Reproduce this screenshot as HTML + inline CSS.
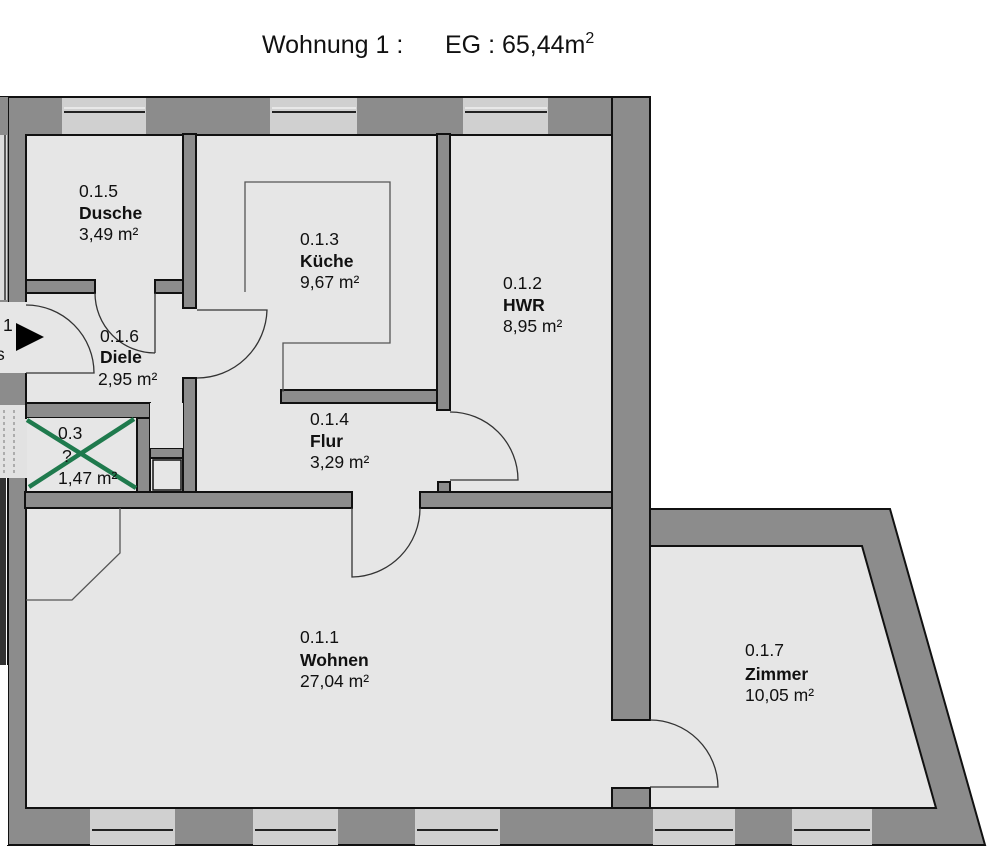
<!DOCTYPE html>
<html><head><meta charset="utf-8"><style>
html,body{margin:0;padding:0;background:#fff;}
svg{display:block;}
text{font-family:"Liberation Sans",Arial,sans-serif;font-size:17.5px;fill:#111;}
.b{font-weight:bold;}
</style></head><body>
<svg width="1000" height="851" viewBox="0 0 1000 851" xmlns="http://www.w3.org/2000/svg">
<rect width="1000" height="851" fill="#fff"/>
<text x="262" y="53" style="font-size:25px">Wohnung 1 :</text>
<text x="445" y="53" style="font-size:25px">EG : 65,44m<tspan dy="-10" style="font-size:16px">2</tspan></text>

<!-- building base gray -->
<polygon points="0,97 650,97 650,509 890,509 985,845 8,845 8,97" fill="#8c8c8c" stroke="#111" stroke-width="2"/>
<rect x="0" y="97" width="8" height="205" fill="#8c8c8c"/>
<rect x="0" y="135" width="7" height="165" fill="#ddd"/>
<line x1="5" y1="135" x2="5" y2="300" stroke="#333" stroke-width="1.5"/>
<rect x="0" y="373" width="26" height="32" fill="#8c8c8c"/>
<rect x="0" y="478" width="6" height="187" fill="#333"/>
<rect x="0" y="665" width="8" height="180" fill="#fff"/>

<!-- light interior -->
<g fill="#e6e6e6" stroke="#111" stroke-width="2">
<rect x="26" y="135" width="586" height="673"/>
<polygon points="650,546 862,546 936,808 650,808"/>
</g>
<rect x="0" y="302" width="27" height="71" fill="#e6e6e6"/>
<rect x="0" y="405" width="27" height="73" fill="#e2e2e2"/>
<g stroke="#777" stroke-width="1" stroke-dasharray="3,3">
<line x1="4" y1="410" x2="4" y2="476"/><line x1="14" y1="410" x2="14" y2="476"/>
</g>

<!-- internal walls -->
<g fill="#8c8c8c" stroke="#111" stroke-width="2">
<rect x="26" y="280" width="69" height="13"/>
<rect x="155" y="280" width="41" height="13"/>
<rect x="183" y="134" width="13" height="174"/>
<rect x="183" y="378" width="13" height="114"/>
<rect x="26" y="403" width="124" height="15"/>
<rect x="137" y="418" width="13" height="74"/>
<rect x="150" y="448" width="33" height="10"/>
<rect x="437" y="134" width="13" height="276"/>
<rect x="281" y="390" width="156" height="13"/>
<rect x="25" y="492" width="327" height="16"/>
<rect x="420" y="492" width="193" height="16"/>
<rect x="438" y="482" width="12" height="10"/>
<rect x="612" y="97" width="38" height="623"/>
<rect x="612" y="788" width="38" height="20"/>
</g>
<rect x="611" y="721" width="41" height="66" fill="#e6e6e6"/>
<rect x="153" y="460" width="28" height="30" fill="#e6e6e6" stroke="#111" stroke-width="1.5"/>
<rect x="27" y="418" width="109" height="72" fill="#e6e6e6"/>
<rect x="150" y="403" width="33" height="45" fill="#e6e6e6"/>

<!-- top windows -->
<g>
<rect x="62" y="98" width="84" height="36" fill="#d0d0d0"/>
<rect x="270" y="98" width="87" height="36" fill="#d0d0d0"/>
<rect x="463" y="98" width="85" height="36" fill="#d0d0d0"/>
<g stroke="#222" stroke-width="2" fill="none">
<line x1="64" y1="112" x2="145" y2="112"/><line x1="272" y1="112" x2="356" y2="112"/><line x1="465" y1="112" x2="547" y2="112"/>
</g>
<g stroke="#fff" stroke-width="1"><line x1="64" y1="108" x2="145" y2="108"/><line x1="272" y1="108" x2="356" y2="108"/><line x1="465" y1="108" x2="547" y2="108"/></g>
</g>
<!-- bottom windows -->
<g fill="#d0d0d0">
<rect x="90" y="809" width="85" height="36"/><rect x="253" y="809" width="85" height="36"/><rect x="415" y="809" width="85" height="36"/>
<rect x="653" y="809" width="82" height="36"/><rect x="792" y="809" width="80" height="36"/>
</g>
<g stroke="#222" stroke-width="2">
<line x1="92" y1="830" x2="173" y2="830"/><line x1="255" y1="830" x2="336" y2="830"/><line x1="417" y1="830" x2="498" y2="830"/>
<line x1="655" y1="830" x2="733" y2="830"/><line x1="794" y1="830" x2="870" y2="830"/>
</g>

<!-- doors -->
<g fill="none" stroke="#333" stroke-width="1.3">
<path d="M197,310 H267 A70,70 0 0 1 197,378"/>
<path d="M155,293 V353 M95,293 A60,60 0 0 0 155,353"/>
<path d="M26,305 A68,68 0 0 1 94,373 H26"/>
<path d="M450,412 A68,68 0 0 1 518,480 H450"/>
<path d="M352,508 V577 A69,69 0 0 0 420,508"/>
<path d="M650,720 A68,68 0 0 1 718,787 H650"/>
<path d="M245,292 V182 H390 V343 H283 V392" stroke="#555"/>
<path d="M120,508 V553 L72,600 H26" stroke="#555"/>
</g>
<path d="M16,323 L44,337 L16,351 Z" fill="#000"/>
<text x="3" y="331">1</text>
<text x="-4" y="360">s</text>

<!-- green X -->
<g stroke="#1f7a4d" stroke-width="4.5">
<line x1="27" y1="420" x2="136" y2="488"/><line x1="29" y1="487" x2="134" y2="419"/>
</g>

<!-- labels -->
<text x="79" y="197">0.1.5</text><text x="79" y="219" class="b">Dusche</text><text x="79" y="240">3,49 m²</text>
<text x="300" y="245">0.1.3</text><text x="300" y="267" class="b">Küche</text><text x="300" y="288">9,67 m²</text>
<text x="503" y="289">0.1.2</text><text x="503" y="311" class="b">HWR</text><text x="503" y="332">8,95 m²</text>
<text x="100" y="342">0.1.6</text><text x="100" y="363" class="b">Diele</text><text x="98" y="385">2,95 m²</text>
<text x="58" y="439">0.3</text><text x="62" y="462">?</text><text x="58" y="484">1,47 m²</text>
<text x="310" y="425">0.1.4</text><text x="310" y="447" class="b">Flur</text><text x="310" y="468">3,29 m²</text>
<text x="300" y="643">0.1.1</text><text x="300" y="666" class="b">Wohnen</text><text x="300" y="687">27,04 m²</text>
<text x="745" y="656">0.1.7</text><text x="745" y="680" class="b">Zimmer</text><text x="745" y="701">10,05 m²</text>
</svg>
</body></html>
